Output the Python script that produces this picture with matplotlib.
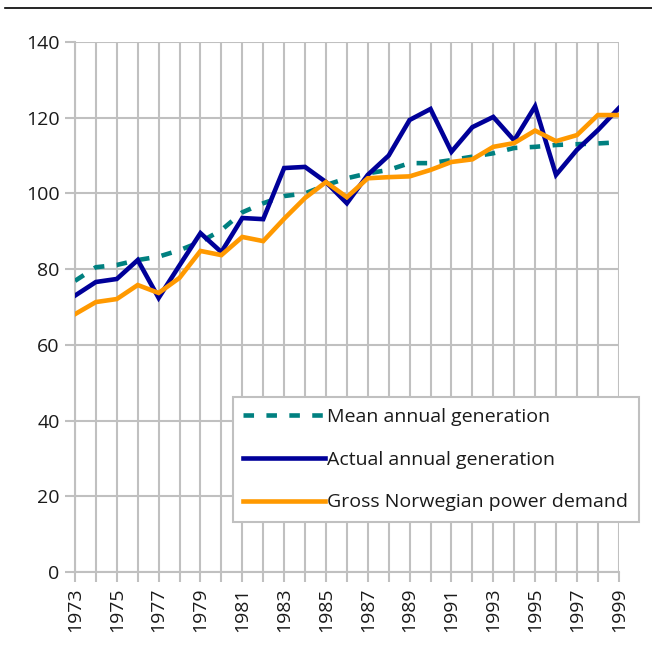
import matplotlib
matplotlib.use("Agg")
import matplotlib.pyplot as plt
from matplotlib.lines import Line2D

years = list(range(1973, 2000))
mean_gen = [76.9, 80.5, 81.1, 82.4, 83.3, 85.0, 87.2, 90.3, 95.0, 97.4, 99.3, 100.0,
            102.2, 104.0, 105.3, 106.2, 108.0, 108.0, 108.8, 109.7, 110.6, 112.0,
            112.3, 112.8, 113.0, 113.2, 113.5]
actual_gen = [73.0, 76.6, 77.4, 82.4, 72.4, 81.0, 89.5, 84.5, 93.5, 93.2, 106.7, 107.0,
              103.0, 97.4, 104.9, 110.0, 119.4, 122.3, 111.0, 117.5, 120.2, 114.0,
              123.0, 104.9, 111.5, 116.7, 122.5]
demand = [68.1, 71.3, 72.1, 75.8, 73.7, 77.7, 84.8, 83.7, 88.5, 87.4, 93.3, 98.8,
          103.0, 99.0, 104.0, 104.3, 104.5, 106.2, 108.3, 109.0, 112.3, 113.3,
          116.6, 113.8, 115.4, 120.7, 120.7]
labels = ["Mean annual generation", "Actual annual generation", "Gross Norwegian power demand"]
yticks = list(range(0, 141, 20))
xlabel_years = list(range(1973, 2000, 2))

plt.rcParams['font.family'] = ['Open Sans', 'DejaVu Sans']

fig = plt.figure(figsize=(6.52, 6.51), dpi=100)
ax = fig.add_axes([0.115, 0.1214, 0.834, 0.8141])

grid_c = '#c0c0c0'
lw = 3.3
dash = (2.3, 2.7)
ax.plot(years, mean_gen, color='#008080', lw=lw, dashes=dash, zorder=3)
ax.plot(years, actual_gen, color='#000099', lw=lw, zorder=4, solid_joinstyle='miter')
ax.plot(years, demand, color='#ff9900', lw=lw, zorder=5, solid_joinstyle='miter')

ax.set_xlim(1973, 1999)
ax.set_ylim(0, 140)
ax.set_xticks(years, minor=False)
ax.set_xticklabels([str(y) if y in xlabel_years else '' for y in years], rotation=90, fontsize=14)
ax.set_yticks(yticks)
ax.set_yticklabels([str(v) for v in yticks], fontsize=14)
ax.tick_params(axis='both', color=grid_c, width=1.5, length=7, pad=4, labelcolor='#1a1a1a')

ax.grid(True, color=grid_c, lw=1.5, zorder=0)
ax.set_axisbelow(True)
for s in ['top', 'right']:
    ax.spines[s].set_visible(False)
for s in ['left', 'bottom']:
    ax.spines[s].set_color(grid_c)
    ax.spines[s].set_linewidth(1.5)

handles = [Line2D([], [], color='#008080', lw=lw, dashes=dash),
           Line2D([], [], color='#000099', lw=lw),
           Line2D([], [], color='#ff9900', lw=lw)]
leg = fig.legend(handles, labels, loc='lower left', bbox_to_anchor=(0.357, 0.198),
                 bbox_transform=fig.transFigure, borderaxespad=0, fontsize=14,
                 handlelength=4.2, handletextpad=0.1, labelspacing=1.27,
                 fancybox=False, framealpha=1, edgecolor=grid_c, borderpad=0.55)
leg.get_frame().set_linewidth(1.5)
for t in leg.get_texts():
    t.set_color('#1a1a1a')

fig.add_artist(Line2D([0.008, 1.0], [0.988, 0.988], color='black', lw=1.2, transform=fig.transFigure))

fig.savefig('out.png', dpi=100)
